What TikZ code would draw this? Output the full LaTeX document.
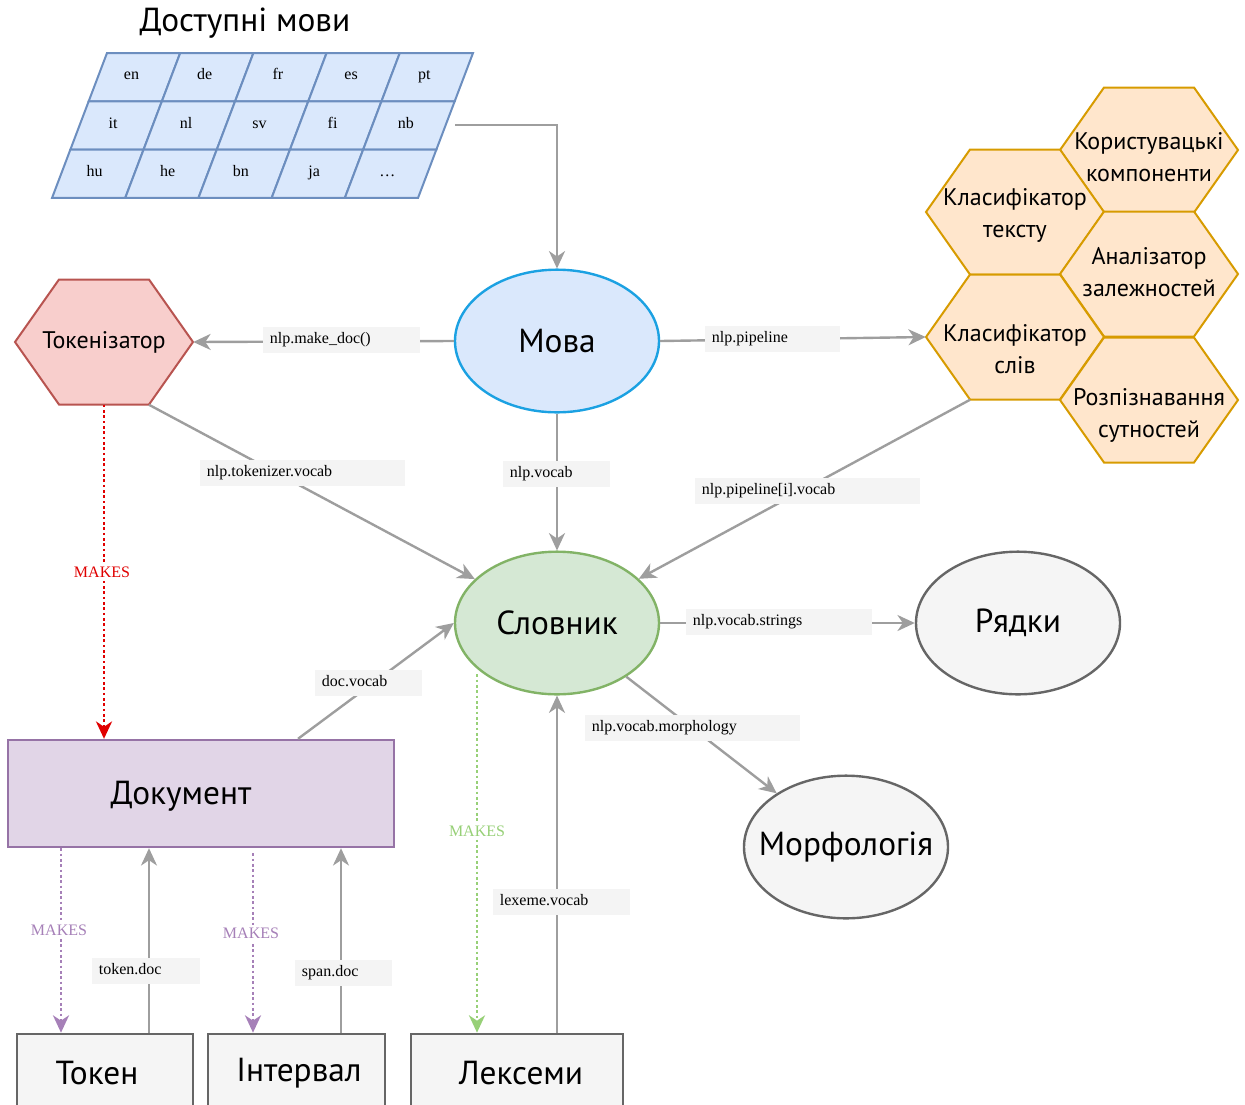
\documentclass[tikz,border=0pt]{standalone}
\usepackage{fontspec}
\setmainfont{Liberation Serif}
\newfontfamily\uafont{PT Sans}
\usepackage{xcolor}
\usepackage{tikz}
\usetikzlibrary{shapes.geometric,arrows.meta,calc,positioning}

\definecolor{linkgrey}{HTML}{9E9E9E}
\definecolor{tagfill}{HTML}{F4F4F4}
\definecolor{langfill}{HTML}{DAE8FC}
\definecolor{langdraw}{HTML}{6C8EBF}
\definecolor{movadraw}{HTML}{1BA1E2}
\definecolor{pipefill}{HTML}{FFE6CC}
\definecolor{pipedraw}{HTML}{D79B00}
\definecolor{tokfill}{HTML}{F8CECC}
\definecolor{tokdraw}{HTML}{B85450}
\definecolor{vocfill}{HTML}{D5E8D4}
\definecolor{vocdraw}{HTML}{82B366}
\definecolor{docfill}{HTML}{E1D5E7}
\definecolor{docdraw}{HTML}{9673A6}
\definecolor{greyfill}{HTML}{F5F5F5}
\definecolor{greydraw}{HTML}{666666}
\definecolor{makesred}{HTML}{E00000}
\definecolor{makesgreen}{HTML}{97D077}
\definecolor{makespurple}{HTML}{A680B8}

\newcommand{\bigfont}{\uafont\fontsize{25}{30}\selectfont}
\newcommand{\hexfont}{\uafont\fontsize{18}{24}\selectfont}

\tikzset{
  link/.style={draw=linkgrey, line width=1.8pt, -{Stealth[length=13pt,width=12pt,inset=4pt]}},
  makes/.style={line width=2pt, dash pattern={on 2pt off 2pt}, -{Stealth[length=13pt,width=12pt,inset=4pt]}},
  tag/.style={fill=tagfill, anchor=west, text width=#1, align=left, inner xsep=5pt, inner ysep=0pt,
    minimum height=19.5pt, text height=1.6ex, text depth=.4ex, font=\fontsize{12}{14}\selectfont},
  makestext/.style={fill=white, inner sep=2pt, font=\fontsize{12}{14}\selectfont},
  langcell/.style={fill=langfill, draw=langdraw, line width=1.5pt},
  langtext/.style={text height=1.6ex, text depth=.3ex, inner sep=0pt, font=\fontsize{12}{14}\selectfont},
  bigtext/.style={inner sep=0pt, font=\bigfont},
  hexshape/.style={minimum width=133.5pt, minimum height=93.75pt, inner sep=0pt},
  hextext/.style={inner sep=0pt, align=center, font=\hexfont},
  ellcell/.style={ellipse, minimum width=153pt, minimum height=107pt, inner xsep=-30pt, inner ysep=0pt, line width=1.8pt, font=\bigfont},
  docbox/.style={rectangle, minimum width=289.5pt, minimum height=80.25pt, fill=docfill, draw=docdraw, line width=1.8pt},
  objbox/.style={rectangle, minimum height=58.5pt, fill=greyfill, draw=greydraw, line width=2pt}
}

% hexagon: [text shift], name, centre, fill, draw, text
\newcommand{\hexcell}[6][0]{%
  \draw[line width=1.5pt, fill=#4, draw=#5] ($#3+(-89,0)$) -- ++(44,-62.5) -- ++(90,0) -- ++(44,62.5) -- ++(-44,62.5) -- ++(-90,0) -- cycle;
  \node[hexshape] (#2) at #3 {};
  \node[hextext] (#2-text) at ($#3+(0,#1)$) {#6};}

\begin{document}
\begin{tikzpicture}[x=0.75pt,y=0.75pt,yscale=-1,xscale=1]
\useasboundingbox (0,0) rectangle (1245,1104);

% Text Node
\node[bigtext] (title) at (245,23) {Доступні мови};

%Language grid
\foreach \row/\labs in {0/{en,de,fr,es,pt},1/{it,nl,sv,fi,nb},2/{hu,he,bn,ja,\ldots}} {
  \foreach \lab [count=\col from 0] in \labs {
    \draw[langcell] ({107+73.2*\col-18.33*\row},{53+48.33*\row}) -- ++(73.2,0) -- ++(-18.33,48.33) -- ++(-73.2,0) -- cycle;
    \node[langtext] (lang-\row-\col) at ({131.5+73.2*\col-18.5*\row},{76+48.5*\row}) {\lab};
  }
}
\coordinate (langs) at (455,125);

%Ellipses
\node[ellcell, fill=langfill, draw=movadraw] (mova) at (557,341) {Мова};
\node[ellcell, fill=vocfill, draw=vocdraw] (voc) at (557,623) {Словник};
\node[ellcell, fill=greyfill, draw=greydraw] (strs) at (1018,623) {Рядки};
\node[ellcell, fill=greyfill, draw=greydraw] (morph) at (846,847) {Морфологія};

%Hexagons
\hexcell{tok}{(104,342)}{tokfill}{tokdraw}{Токенізатор}
\hexcell[7]{custom}{(1149,150)}{pipefill}{pipedraw}{Користувацькі\\компоненти}
\hexcell[3]{clstext}{(1015,212)}{pipefill}{pipedraw}{Класифікатор\\тексту}
\hexcell[-2]{deps}{(1149,274)}{pipefill}{pipedraw}{Аналізатор\\залежностей}
\hexcell[12]{clsword}{(1015,337)}{pipefill}{pipedraw}{Класифікатор\\слів}
\hexcell[15]{ents}{(1149,400)}{pipefill}{pipedraw}{Розпізнавання\\сутностей}

%Boxes
\node[docbox] (doc) at (201,793.5) {};
\node[bigtext] (doctext) at (181,796) {Документ};
\node[objbox, minimum width=132pt] (tokn) at (105,1073) {};
\node[objbox, minimum width=132.75pt] (span) at (296.5,1073) {};
\node[objbox, minimum width=159pt] (lex) at (517,1073) {};
\node[bigtext] (tokntext) at (97,1073) {Токен};
\node[bigtext] (spantext) at (299,1073) {Інтервал};
\node[bigtext] (lextext) at (521,1073) {Лексеми};

\coordinate (tokmk) at ($(tokn.north)+(-44,0)$);
\coordinate (tokup) at ($(tokn.north)+(44,0)$);
\coordinate (spanmk) at ($(span.north)+(-43.5,0)$);
\coordinate (spanup) at ($(span.north)+(44.5,0)$);
\coordinate (lexmk) at ($(lex.north)+(-40,0)$);
\coordinate (lexup) at ($(lex.north)+(40,0)$);

%Straight Lines
\draw[link] (langs) -| (mova);
\draw[link] (mova.west) -- (tok.east);
\draw[link] (mova.east) -- (clsword.west);
\draw[link] (mova) -- (voc);
\draw[link] ($(tok.south)+(45,0)$) -- (voc);
\draw[link] ($(clsword.south)+(-45,0)$) -- (voc);
\draw[link] ($(doc.north)+(97,0)$) -- (voc.west);
\draw[link] (voc.east) -- (strs.west);
\draw[link] (voc) -- (morph);
\draw[link] (lexup) -- (voc.south);
\draw[link] (tokup) -- (tokup |- doc.south);
\draw[link] (spanup) -- (spanup |- doc.south);

%Dotted Lines
\draw[makes, makesred] (tok.south) -- (tok.south |- doc.north);
\draw[makes, makespurple] (tokmk |- doc.south) -- (tokmk);
\draw[makes, makespurple] ($(spanmk |- doc.south)+(0,5)$) -- (spanmk);
\draw[makes, makesgreen] (lexmk |- voc.south west) -- (lexmk);

% Text Node
\node[makestext, text=makesred] (mkdoc) at (102,572) {MAKES};
\node[makestext, text=makespurple] (mktok) at (59,930) {MAKES};
\node[makestext, text=makespurple] (mkspan) at (251,933) {MAKES};
\node[makestext, text=makesgreen] (mklex) at (477,831) {MAKES};

% Text Node
\node[tag=107.75pt] (tmakedoc) at (263,340) {nlp.make\_doc()};
\node[tag=91.25pt] (tpipe) at (705,338.5) {nlp.pipeline};
\node[tag=70.25pt] (tvocab) at (503,474) {nlp.vocab};
\node[tag=143.75pt] (ttokvocab) at (200,473) {nlp.tokenizer.vocab};
\node[tag=158.75pt] (tpipevocab) at (695,490.5) {nlp.pipeline[i].vocab};
\node[tag=70.25pt] (tdocvocab) at (315,683) {doc.vocab};
\node[tag=129.5pt] (tstrings) at (686,622) {nlp.vocab.strings};
\node[tag=151.25pt] (tmorph) at (585,728) {nlp.vocab.morphology};
\node[tag=92.75pt] (tlexvocab) at (493,902) {lexeme.vocab};
\node[tag=71pt] (ttokdoc) at (92,971) {token.doc};
\node[tag=62.75pt] (tspandoc) at (295,973) {span.doc};

\end{tikzpicture}
\end{document}
